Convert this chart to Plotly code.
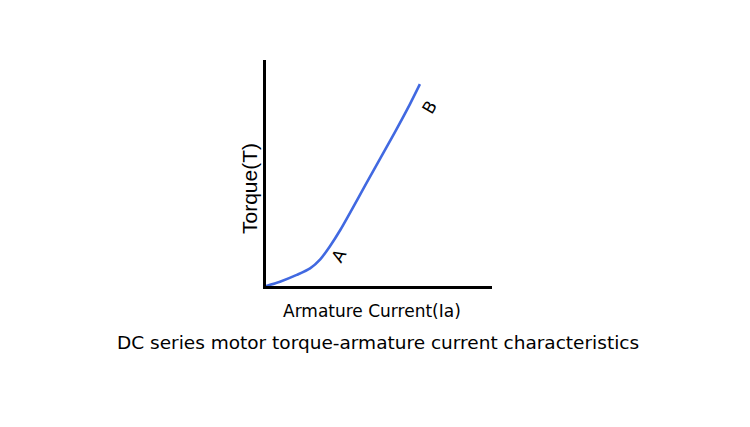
import plotly.graph_objects as go

current = [0, 6.2, 13.6, 19.5, 24.0, 28.3, 33.0, 45.0, 57.0, 63.7, 68.1]
torque = [0, 1.9, 4.9, 7.8, 11.8, 17.6, 25.0, 46.5, 68.0, 80.5, 89.3]

W, H = 750, 427
x0, x1 = 266, 492
y0, y1 = 60, 286

fig = go.Figure()
fig.add_trace(go.Scatter(x=current, y=torque, mode="lines",
                         line=dict(color="#4169e1", width=2.6, shape="spline", smoothing=0.8),
                         hoverinfo="skip"))

fig.add_annotation(x=32.5, y=13.5, text="A", showarrow=False, textangle=-60,
                   xanchor="center", yanchor="middle",
                   font=dict(family="DejaVu Sans", size=17, color="black"))
fig.add_annotation(x=72.5, y=79, text="B", showarrow=False, textangle=-60,
                   xanchor="center", yanchor="middle",
                   font=dict(family="DejaVu Sans", size=17, color="black"))

fig.add_annotation(xref="paper", yref="paper", x=249 / W, y=1 - 189 / H, text="Torque(T)",
                   showarrow=False, textangle=-90, xanchor="center", yanchor="middle",
                   font=dict(family="Liberation Sans", size=21, color="black"))
fig.add_annotation(xref="paper", yref="paper", x=372 / W, y=1 - 311 / H, text="Armature Current(Ia)",
                   showarrow=False, xanchor="center", yanchor="middle",
                   font=dict(family="DejaVu Sans", size=17, color="black"))
fig.add_annotation(xref="paper", yref="paper", x=378 / W, y=1 - 342 / H,
                   text="DC series motor torque-armature current characteristics",
                   showarrow=False, xanchor="center", yanchor="middle",
                   font=dict(family="DejaVu Sans", size=18.5, color="black"))

fig.update_layout(
    width=W, height=H, margin=dict(l=0, r=0, t=0, b=0),
    paper_bgcolor="white", plot_bgcolor="white", showlegend=False,
    xaxis=dict(domain=[x0 / W, x1 / W], range=[0, 100], showline=True, linecolor="black",
               linewidth=3, showgrid=False, zeroline=False, showticklabels=False, ticks=""),
    yaxis=dict(domain=[1 - y1 / H, 1 - y0 / H], range=[0, 100], showline=True, linecolor="black",
               linewidth=3, showgrid=False, zeroline=False, showticklabels=False, ticks=""),
)
fig.write_html("out.html")
